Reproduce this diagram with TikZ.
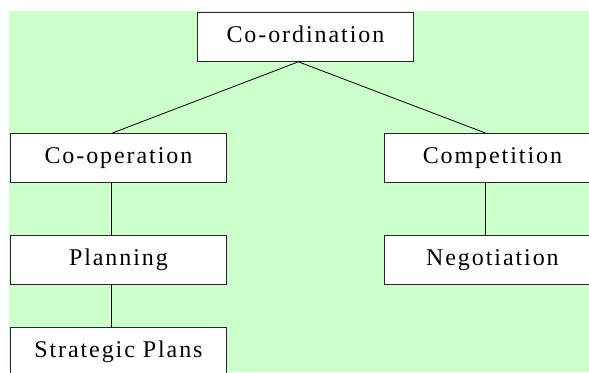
\documentclass[tikz,border=0pt]{standalone}
\usepackage{fontspec}
\setmainfont{Liberation Serif}[LetterSpace=8]
\usetikzlibrary{calc}
\definecolor{bggreen}{HTML}{CCFFCC}
\begin{document}
\begin{tikzpicture}[x=1bp,y=-1bp,
  box/.style={draw=black!85, line width=0.8bp, fill=white, minimum width=216bp, minimum height=49bp, inner sep=0pt, font=\fontsize{24bp}{27bp}\selectfont, anchor=north west, text height=16bp, text depth=5bp},
  link/.style={draw=black, line width=0.8bp}]
\useasboundingbox (0,0) rectangle (589,372);
\clip (0,0) rectangle (589,372);
\fill[bggreen] (9,11) rectangle (589,372);
\node[box] (coord) at (197,12) {Co-ordination};
\node[box] (coop) at (10,133) {Co-operation};
\node[box] (comp) at (384,133) {Competition};
\node[box] (plan) at (10,235) {Planning};
\node[box] (nego) at (384,235) {Negotiation};
\node[box] (strat) at (10,327) {Strategic Plans};
\coordinate (apex) at ($(coord.south)+(-7,0)$);
\draw[link] (apex) -- ($(coop.north)+(-6,0)$);
\draw[link] (apex) -- ($(comp.north)+(-7,0)$);
\draw[link] ($(coop.south)+(-7,0)$) -- ($(plan.north)+(-7,0)$);
\draw[link] ($(plan.south)+(-7,0)$) -- ($(strat.north)+(-7,0)$);
\draw[link] ($(comp.south)+(-7,0)$) -- ($(nego.north)+(-7,0)$);
\end{tikzpicture}
\end{document}
